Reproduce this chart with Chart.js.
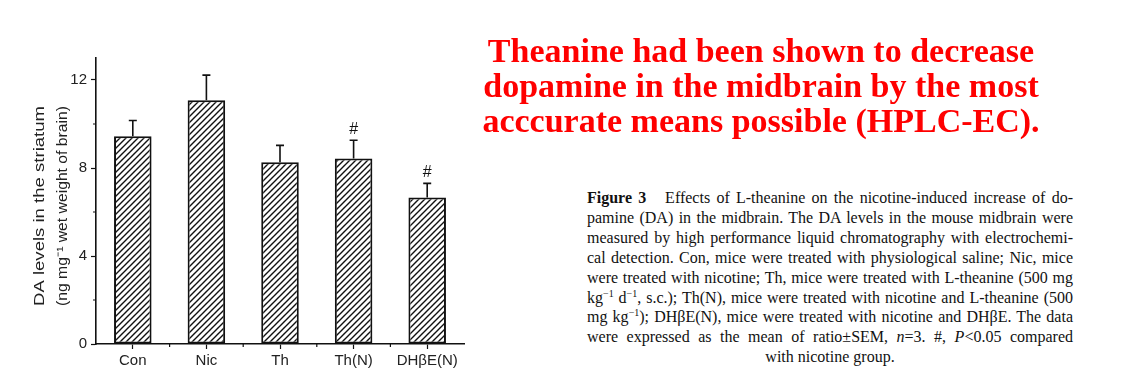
<!DOCTYPE html>
<html>
<head>
<meta charset="utf-8">
<script src="https://cdn.jsdelivr.net/npm/chart.js@4.4.1/dist/chart.umd.min.js"></script>
<style>
  html, body { margin: 0; padding: 0; background: #fff; }
  body { width: 1141px; height: 386px; position: relative; overflow: hidden; }
  #chartBox { position: absolute; left: 0; top: 0; width: 480px; height: 386px; }
  #headline {
    position: absolute; left: 461px; top: 33px; width: 600px;
    font-family: "Liberation Serif", "DejaVu Serif", serif; font-weight: bold;
    font-size: 34px; line-height: 35px; color: #ff0000; text-align: center;
  }
  #caption {
    position: absolute; left: 587px; top: 188px; width: 486px;
    font-family: "Liberation Serif", "Times New Roman", serif;
    font-size: 16px; line-height: 19.9px; color: #111;
  }
  #caption div { text-align: justify; text-align-last: justify; white-space: nowrap; }
  #caption div.last { text-align: center; text-align-last: center; }
  #caption sup { font-size: 10px; line-height: 0; vertical-align: 6px; }
</style>
</head>
<body>
<div id="chartBox"><canvas id="barChart" width="480" height="386"></canvas></div>

<div id="headline">Theanine had been shown to decrease<br>dopamine in the midbrain by the most<br>acccurate means possible (HPLC-EC).</div>

<div id="caption">
  <div><b>Figure 3</b>&nbsp;&nbsp; Effects of L-theanine on the nicotine-induced increase of do-</div>
  <div>pamine (DA) in the midbrain. The DA levels in the mouse midbrain were</div>
  <div>measured by high performance liquid chromatography with electrochemi-</div>
  <div>cal detection. Con, mice were treated with physiological saline; Nic, mice</div>
  <div>were treated with nicotine; Th, mice were treated with L-theanine (500 mg</div>
  <div>kg<sup>−1</sup> d<sup>−1</sup>, s.c.); Th(N), mice were treated with nicotine and L-theanine (500</div>
  <div>mg kg<sup>−1</sup>); DHβE(N), mice were treated with nicotine and DHβE. The data</div>
  <div>were expressed as the mean of ratio±SEM, <i>n</i>=3. #, <i>P</i>&lt;0.05 compared</div>
  <div class="last">with nicotine group.</div>
</div>

<script>
// ---- data ----
const groups     = ["Con", "Nic", "Th", "Th(N)", "DHβE(N)"];
const daLevels   = [9.44, 11.08, 8.26, 8.43, 6.66];
const daSem      = [0.72, 1.14, 0.77, 0.83, 0.64];
const sigMarks   = ["", "", "", "#", "#"];
const yMajor     = [0, 4, 8, 12];
const yMinor     = [2, 6, 10];
const yTitle     = ["DA levels in the striatum", "(ng mg⁻¹ wet weight of brain)"];

const FONT = "'Liberation Sans', Arial, sans-serif";

// diagonal hatch fill
function makeHatch() {
  const c = document.createElement("canvas");
  c.width = 6; c.height = 6;
  const g = c.getContext("2d");
  g.fillStyle = "#fff";
  g.fillRect(0, 0, 6, 6);
  g.strokeStyle = "#111";
  g.lineWidth = 1.4;
  g.beginPath();
  g.moveTo(-1, 7); g.lineTo(7, -1);
  g.moveTo(-1, 1); g.lineTo(1, -1);
  g.moveTo(5, 7); g.lineTo(7, 5);
  g.stroke();
  return g.createPattern(c, "repeat");
}

// error bars, "#" marks, minor ticks and the rotated axis title
const extras = {
  id: "extras",
  afterDatasetsDraw(chart) {
    const { ctx, scales: { x, y } } = chart;
    ctx.save();
    ctx.strokeStyle = "#111";
    ctx.lineWidth = 1.6;
    groups.forEach((g, i) => {
      const px  = x.getPixelForValue(i);
      const top = y.getPixelForValue(daLevels[i]);
      const hi  = y.getPixelForValue(daLevels[i] + daSem[i]);
      ctx.beginPath();
      ctx.moveTo(px, top); ctx.lineTo(px, hi);
      ctx.moveTo(px - 4, hi); ctx.lineTo(px + 4, hi);
      ctx.stroke();
      if (sigMarks[i]) {
        ctx.fillStyle = "#111";
        ctx.font = "16px " + FONT;
        ctx.textAlign = "center";
        ctx.textBaseline = "middle";
        ctx.fillText(sigMarks[i], px, hi - 11);
      }
    });
    ctx.restore();
  },
  afterDraw(chart) {
    const { ctx, scales: { x, y } } = chart;
    ctx.save();
    ctx.strokeStyle = "#111";
    ctx.lineWidth = 1.2;
    ctx.beginPath();
    yMinor.forEach(v => {
      const py = y.getPixelForValue(v);
      ctx.moveTo(y.right - 3, py); ctx.lineTo(y.right, py);
    });
    for (let i = 0; i < groups.length - 1; i++) {
      const px = (x.getPixelForValue(i) + x.getPixelForValue(i + 1)) / 2;
      ctx.moveTo(px, x.top); ctx.lineTo(px, x.top + 3);
    }
    ctx.stroke();

    // two-line y title
    const midY = (chart.chartArea.top + chart.chartArea.bottom) / 2 + 5;
    ctx.fillStyle = "#222";
    ctx.font = "15px " + FONT;
    ctx.textAlign = "center";
    ctx.textBaseline = "middle";
    [40, 63].forEach((cx, k) => {
      ctx.save();
      ctx.translate(cx, midY);
      ctx.rotate(-Math.PI / 2);
      const w = ctx.measureText(yTitle[k]).width;
      const target = 200;
      if (w < target) ctx.scale(target / w, 1);
      ctx.fillText(yTitle[k], 0, 0);
      ctx.restore();
    });
    ctx.restore();
  }
};

new Chart(document.getElementById("barChart"), {
  type: "bar",
  data: {
    labels: groups,
    datasets: [{
      data: daLevels,
      backgroundColor: makeHatch(),
      borderColor: "#111",
      borderWidth: 2,
      borderSkipped: false,
      categoryPercentage: 0.51,
      barPercentage: 1
    }]
  },
  options: {
    responsive: false,
    animation: false,
    devicePixelRatio: 1,
    layout: { padding: { left: 0, top: 58, right: 16, bottom: 0 } },
    plugins: { legend: { display: false }, tooltip: { enabled: false } },
    scales: {
      x: {
        offset: true,
        grid: { offset: false, drawOnChartArea: false, tickLength: 5, tickColor: "#111", tickWidth: 1.2 },
        border: { color: "#111", width: 1.6 },
        ticks: { color: "#222", padding: 3, font: { family: FONT, size: 15 } },
        afterFit: s => { s.height = 42; }
      },
      y: {
        min: 0,
        max: 13,
        grid: { drawOnChartArea: false, tickLength: 5, tickColor: "#111", tickWidth: 1.2 },
        border: { color: "#111", width: 1.6 },
        ticks: {
          stepSize: 4,
          includeBounds: false,
          padding: 4,
          color: "#222",
          font: { family: FONT, size: 15 },
          callback: v => (yMajor.includes(v) ? v : "")
        },
        afterFit: s => { s.width = 96; }
      }
    }
  },
  plugins: [extras]
});
</script>
</body>
</html>
